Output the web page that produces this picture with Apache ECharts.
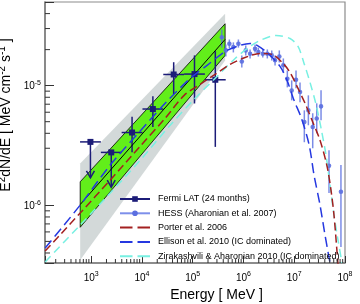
<!DOCTYPE html>
<html><head><meta charset="utf-8">
<script src="https://cdn.jsdelivr.net/npm/echarts@6/dist/echarts.min.js"></script>
<style>html,body{margin:0;padding:0;background:#fff}#c{width:360px;height:304px}</style>
</head><body><div id="c"></div>
<script>
// ---------- data ----------
// Fermi LAT (24 months)
const fermiE   = [966, 2483, 6383, 16410, 42170, 108400, 278600];
const fermiF   = [3.39e-6, 2.77e-6, 4.06e-6, 6.38e-6, 1.24e-5, 1.25e-5, 1.12e-5];
const fermiElo = [603, 1549, 3981, 10230, 26300, 67600, 173800];
const fermiEhi = [1549, 3981, 10230, 26300, 67600, 173800, 446700];
const fermiFlo = [1.70e-6, 1.42e-6, 2.78e-6, 4.52e-6, 8.5e-6, 7.1e-6, 3.08e-6];
const fermiFhi = [3.39e-6, 2.77e-6, 5.5e-6, 8.15e-6, 1.57e-5, 1.79e-5, 1.94e-5];
const fermiUL  = [1, 1, 0, 0, 0, 0, 0];

// HESS (Aharonian et al. 2007)
const hessE   = [374000, 448700, 527000, 632000, 794000, 927000, 1.109e6, 1.349e6, 1.690e6, 1.963e6, 2.399e6, 2.951e6, 3.606e6, 4.19e6, 5.08e6, 6.1e6, 7.31e6, 8.91e6, 1.084e7, 1.30e7, 1.58e7, 1.897e7, 2.312e7, 2.773e7, 3.373e7, 4.84e7, 8.32e7];
const hessF   = [2.54e-5, 1.97e-5, 2.24e-5, 2.10e-5, 2.24e-5, 1.59e-5, 1.97e-5, 1.85e-5, 2.03e-5, 1.91e-5, 1.85e-5, 1.85e-5, 1.79e-5, 1.63e-5, 1.75e-5, 1.48e-5, 1.14e-5, 9.1e-6, 1.12e-5, 8.85e-6, 4.97e-6, 6.22e-6, 4.52e-6, 5.31e-6, 6.72e-6, 2.14e-6, 1.30e-6];
const hessFlo = [2.08e-5, 1.75e-5, 2.05e-5, 1.895e-5, 2.08e-5, 1.42e-5, 1.789e-5, 1.688e-5, 1.895e-5, 1.75e-5, 1.72e-5, 1.688e-5, 1.626e-5, 1.476e-5, 1.563e-5, 1.29e-5, 9.68e-6, 7.54e-6, 9.50e-6, 7.26e-6, 3.37e-6, 4.67e-6, 3.0e-6, 4.0e-6, 5.14e-6, 1.266e-6, 4.49e-7];
const hessFhi = [2.94e-5, 2.21e-5, 2.43e-5, 2.30e-5, 2.43e-5, 1.789e-5, 2.17e-5, 2.007e-5, 2.21e-5, 2.08e-5, 2.007e-5, 2.007e-5, 1.97e-5, 1.789e-5, 1.97e-5, 1.688e-5, 1.34e-5, 1.107e-5, 1.34e-5, 1.065e-5, 6.22e-6, 8.30e-6, 5.88e-6, 7.12e-6, 9.14e-6, 2.89e-6, 2.17e-6];

// Porter et al. 2006
const porterE = [124, 607, 2366, 9226, 28640, 67760, 140000, 276000, 544500, 1.074e6, 2.123e6, 3.656e6, 6.026e6, 8.26e6, 1.135e7, 1.633e7, 2.239e7, 3.221e7, 4.426e7, 5.297e7, 6.067e7, 7.278e7];
const porterF = [4.16e-7, 8.63e-7, 1.625e-6, 3.12e-6, 5.34e-6, 8.3e-6, 1.026e-5, 1.242e-5, 1.505e-5, 1.72e-5, 1.858e-5, 1.823e-5, 1.535e-5, 1.29e-5, 9.87e-6, 7.12e-6, 5.14e-6, 3.50e-6, 2.126e-6, 1.341e-6, 8.30e-7, 3.2e-7];

// Ellison et al. 2010 (IC dominated)
const ellisonE = [124, 607, 2366, 8414, 28640, 88900, 191900, 434500, 857000, 1.349e6, 1.854e6, 3.048e6, 5.248e6, 7.21e6, 9.91e6, 1.361e7, 1.954e7, 2.455e7, 3.221e7, 4.037e7, 5.07e7];
const ellisonF = [4.40e-7, 1.006e-6, 2.17e-6, 4.004e-6, 7.12e-6, 1.15e-5, 1.476e-5, 1.93e-5, 2.17e-5, 2.25e-5, 2.17e-5, 1.858e-5, 1.449e-5, 1.107e-5, 7.54e-6, 5.45e-6, 3.24e-6, 1.789e-6, 1.006e-6, 5.655e-7, 3.30e-7];

// Zirakashvili & Aharonian 2010 (IC dominated)
const zirakE = [124, 607, 2366, 9226, 35900, 111400, 276000, 684000, 1.349e6, 2.323e6, 4.385e6, 8.26e6, 1.188e7, 1.56e7, 2.046e7, 2.686e7, 3.373e7, 4.227e7, 5.07e7, 6.067e7, 7.278e7, 8.73e7];
const zirakF = [3.37e-7, 6.85e-7, 1.266e-6, 2.385e-6, 4.67e-6, 7.84e-6, 1.15e-5, 1.688e-5, 2.126e-5, 2.43e-5, 2.626e-5, 2.477e-5, 2.126e-5, 1.535e-5, 1.065e-5, 6.98e-6, 4.41e-6, 2.624e-6, 1.476e-6, 8.30e-7, 5.14e-7, 3.30e-7];

// Fit bands (statistical = green, systematic = grey) and best-fit line
const bandE   = [607, 434500];
const greenUp = [1.574e-6, 3.289e-5];
const greenLo = [6.56e-7, 1.789e-5];
const fitF    = [1.016e-6, 2.432e-5];
const greyUp  = [2.239e-6, 3.98e-5];
const greyLo  = [3.50e-7, 1.626e-5];

// axis ranges
const X_MIN = 123, X_MAX = 1e8, Y_MIN = 3.3e-7, Y_MAX = 5e-5;

// ---------- chart ----------
const FONT = '"Liberation Sans", Arial, Helvetica, sans-serif';
const NAVY = '#1c1c78', HESS = '#5b6fe0', RED = '#a32020', BLUE = '#2538e0', CYAN = '#78f0e2';
const GREEN = '#62ee1a', GREY = '#d3d9d9';

const xMinor = [], yMinor = [];
for (let d = 2; d <= 7; d++) for (let m = 2; m <= 9; m++) { const v = m * Math.pow(10, d); if (v > X_MIN && v < X_MAX) xMinor.push(v); }
for (let d = -7; d <= -5; d++) for (let m = 2; m <= 9; m++) { const v = m * Math.pow(10, d); if (v > Y_MIN && v < Y_MAX) yMinor.push(v); }

function supLabel(v) {
  const l = Math.log10(v), p = Math.round(l);
  if (Math.abs(l - p) > 1e-6) return '';
  return '{b|10}{s|' + p + '}';
}
const labelRich = {
  b: { fontSize: 10, fontFamily: FONT, color: '#000', verticalAlign: 'bottom' },
  s: { fontSize: 7, fontFamily: FONT, color: '#000', verticalAlign: 'bottom', padding: [0, 0, 5, 0] }
};

function bandSeries(up, lo, fill, stroke) {
  return {
    type: 'custom', silent: true, clip: true,
    data: bandE.map((e, i) => [e, up[i], lo[i]]),
    encode: { x: 0, y: [1, 2] },
    renderItem: (params, api) => {
      if (params.dataIndex !== 0) return null;
      const pts = [];
      for (let i = 0; i < bandE.length; i++) pts.push(api.coord([bandE[i], up[i]]));
      for (let i = bandE.length - 1; i >= 0; i--) pts.push(api.coord([bandE[i], lo[i]]));
      return { type: 'polygon', shape: { points: pts },
        style: { fill: fill, stroke: stroke || null, lineWidth: stroke ? 0.8 : 0 } };
    }
  };
}

function modelSeries(name, xs, ys, color, dash) {
  return {
    type: 'line', name: name, data: xs.map((e, i) => [e, ys[i]]),
    symbol: 'none', showSymbol: false, smooth: 0.3, clip: true, silent: true,
    lineStyle: { color: color, width: 1.5, type: dash },
    itemStyle: { color: color }
  };
}

const option = {
  animation: false,
  backgroundColor: '#fff',
  grid: { left: 45, right: 15, top: 2, bottom: 41, outerBoundsMode: 'none', containLabel: false,
    show: true, borderColor: '#8c8c8c', borderWidth: 1.2, backgroundColor: 'transparent' },
  xAxis: {
    type: 'log', logBase: 10, min: X_MIN, max: X_MAX,
    name: 'Energy [ MeV ]', nameLocation: 'middle', nameGap: 22,
    nameTextStyle: { fontSize: 14, fontFamily: FONT, color: '#000', padding: [0, 0, 0, 43] },
    axisLine: { show: true, lineStyle: { color: '#7a7a7a', width: 1.5 } },
    axisTick: { show: true, inside: true, length: 7, lineStyle: { color: '#333', width: 1 } },
    axisLabel: { formatter: supLabel, rich: labelRich, margin: 8 },
    splitLine: { show: false }
  },
  yAxis: {
    type: 'log', logBase: 10, min: Y_MIN, max: Y_MAX,
    name: '{n|E}{s|2}{n|dN/dE [ MeV cm}{s|-2}{n| s}{s|-1}{n| ]}',
    nameLocation: 'middle', nameGap: 23,
    nameTextStyle: {
      padding: [0, 0, 0, 35],
      rich: {
        n: { fontSize: 14, fontFamily: FONT, color: '#000', verticalAlign: 'bottom' },
        s: { fontSize: 10, fontFamily: FONT, color: '#000', verticalAlign: 'bottom', padding: [0, 0, 6, 0] }
      }
    },
    axisLine: { show: true, lineStyle: { color: '#7a7a7a', width: 1.5 } },
    axisTick: { show: true, inside: true, length: 9, lineStyle: { color: '#333', width: 1 } },
    axisLabel: { formatter: supLabel, rich: labelRich, margin: 4 },
    splitLine: { show: false }
  },
  legend: {
    orient: 'vertical', left: 119, top: 194, padding: 0,
    itemWidth: 30, itemHeight: 7, itemGap: 4.3, selectedMode: false,
    textStyle: { fontSize: 9, fontFamily: FONT, color: '#000', lineHeight: 10, padding: [0, 0, 0, 3] },
    data: [
      { name: 'Fermi LAT (24 months)' },
      { name: 'HESS (Aharonian et al. 2007)' },
      { name: 'Porter et al. 2006', itemStyle: { opacity: 0 }, lineStyle: { type: [12.5, 5] } },
      { name: 'Ellison et al. 2010 (IC dominated)', itemStyle: { opacity: 0 }, lineStyle: { type: [12.5, 5] } },
      { name: 'Zirakashvili & Aharonian 2010 (IC dominated)', itemStyle: { opacity: 0 }, lineStyle: { type: [12.5, 5] } }
    ]
  },
  series: [
    bandSeries(greyUp, greyLo, GREY, null),
    bandSeries(greenUp, greenLo, GREEN, '#000'),
    { type: 'line', data: bandE.map((e, i) => [e, fitF[i]]), symbol: 'none', silent: true,
      lineStyle: { color: '#000', width: 1 } },
    modelSeries('Zirakashvili & Aharonian 2010 (IC dominated)', zirakE, zirakF, CYAN, [8, 5]),
    modelSeries('Porter et al. 2006', porterE, porterF, RED, [8, 4]),
    modelSeries('Ellison et al. 2010 (IC dominated)', ellisonE, ellisonF, BLUE, [10, 5]),
    // HESS points
    {
      type: 'custom', clip: true, silent: true,
      data: hessE.map((e, i) => [e, hessF[i], hessFlo[i], hessFhi[i]]),
      encode: { x: 0, y: [1, 2, 3] },
      renderItem: (params, api) => {
        const c = api.coord([api.value(0), api.value(1)]);
        const lo = api.coord([api.value(0), api.value(2)]);
        const hi = api.coord([api.value(0), api.value(3)]);
        return { type: 'group', children: [
          { type: 'line', shape: { x1: c[0], y1: hi[1], x2: c[0], y2: lo[1] }, style: { stroke: HESS, lineWidth: 1.5, opacity: 0.8 } },
          { type: 'circle', shape: { cx: c[0], cy: c[1], r: 2.3 }, style: { fill: HESS, opacity: 0.9 } }
        ] };
      }
    },
    // Fermi points
    {
      type: 'custom', clip: true, silent: true,
      data: fermiE.map((e, i) => [e, fermiF[i], fermiElo[i], fermiEhi[i], fermiFlo[i], fermiFhi[i], fermiUL[i]]),
      encode: { x: [0, 2, 3], y: [1, 4, 5] },
      renderItem: (params, api) => {
        const c = api.coord([api.value(0), api.value(1)]);
        const l = api.coord([api.value(2), api.value(1)]);
        const r = api.coord([api.value(3), api.value(1)]);
        const lo = api.coord([api.value(0), api.value(4)]);
        const hi = api.coord([api.value(0), api.value(5)]);
        const ch = [
          { type: 'line', shape: { x1: l[0], y1: c[1], x2: r[0], y2: c[1] }, style: { stroke: NAVY, lineWidth: 1.5 } },
          { type: 'line', shape: { x1: c[0], y1: hi[1], x2: c[0], y2: lo[1] }, style: { stroke: NAVY, lineWidth: 1.5 } }
        ];
        if (api.value(6)) ch.push({ type: 'polyline', shape: { points: [[lo[0] - 4, lo[1] - 7], [lo[0], lo[1]], [lo[0] + 4, lo[1] - 7]] },
          style: { stroke: NAVY, lineWidth: 1.5, fill: null } });
        ch.push({ type: 'rect', shape: { x: c[0] - 3, y: c[1] - 3, width: 6, height: 6 }, style: { fill: NAVY } });
        return { type: 'group', children: ch };
      }
    },
    // legend proxies for the point series
    { type: 'line', name: 'Fermi LAT (24 months)', data: [], symbol: 'rect', symbolSize: 6,
      itemStyle: { color: NAVY }, lineStyle: { color: NAVY, width: 1.5 } },
    { type: 'line', name: 'HESS (Aharonian et al. 2007)', data: [], symbol: 'circle', symbolSize: 4,
      itemStyle: { color: HESS }, lineStyle: { color: '#7d8fea', width: 1.2 } },
    // minor ticks
    {
      type: 'custom', silent: true, clip: false, z: 5,
      data: xMinor.map(v => [v, Y_MIN]), encode: { x: 0, y: 1 },
      renderItem: (params, api) => {
        const p = api.coord([api.value(0), Y_MIN]);
        return { type: 'line', shape: { x1: p[0], y1: p[1], x2: p[0], y2: p[1] - 4 }, style: { stroke: '#333', lineWidth: 1 } };
      }
    },
    {
      type: 'custom', silent: true, clip: false, z: 5,
      data: yMinor.map(v => [X_MIN, v]), encode: { x: 0, y: 1 },
      renderItem: (params, api) => {
        const p = api.coord([X_MIN, api.value(1)]);
        return { type: 'line', shape: { x1: p[0], y1: p[1], x2: p[0] + 5, y2: p[1] }, style: { stroke: '#333', lineWidth: 1 } };
      }
    }
  ]
};

const chart = echarts.init(document.getElementById('c'), null, { renderer: 'canvas' });
chart.setOption(option);
</script>
</body></html>
